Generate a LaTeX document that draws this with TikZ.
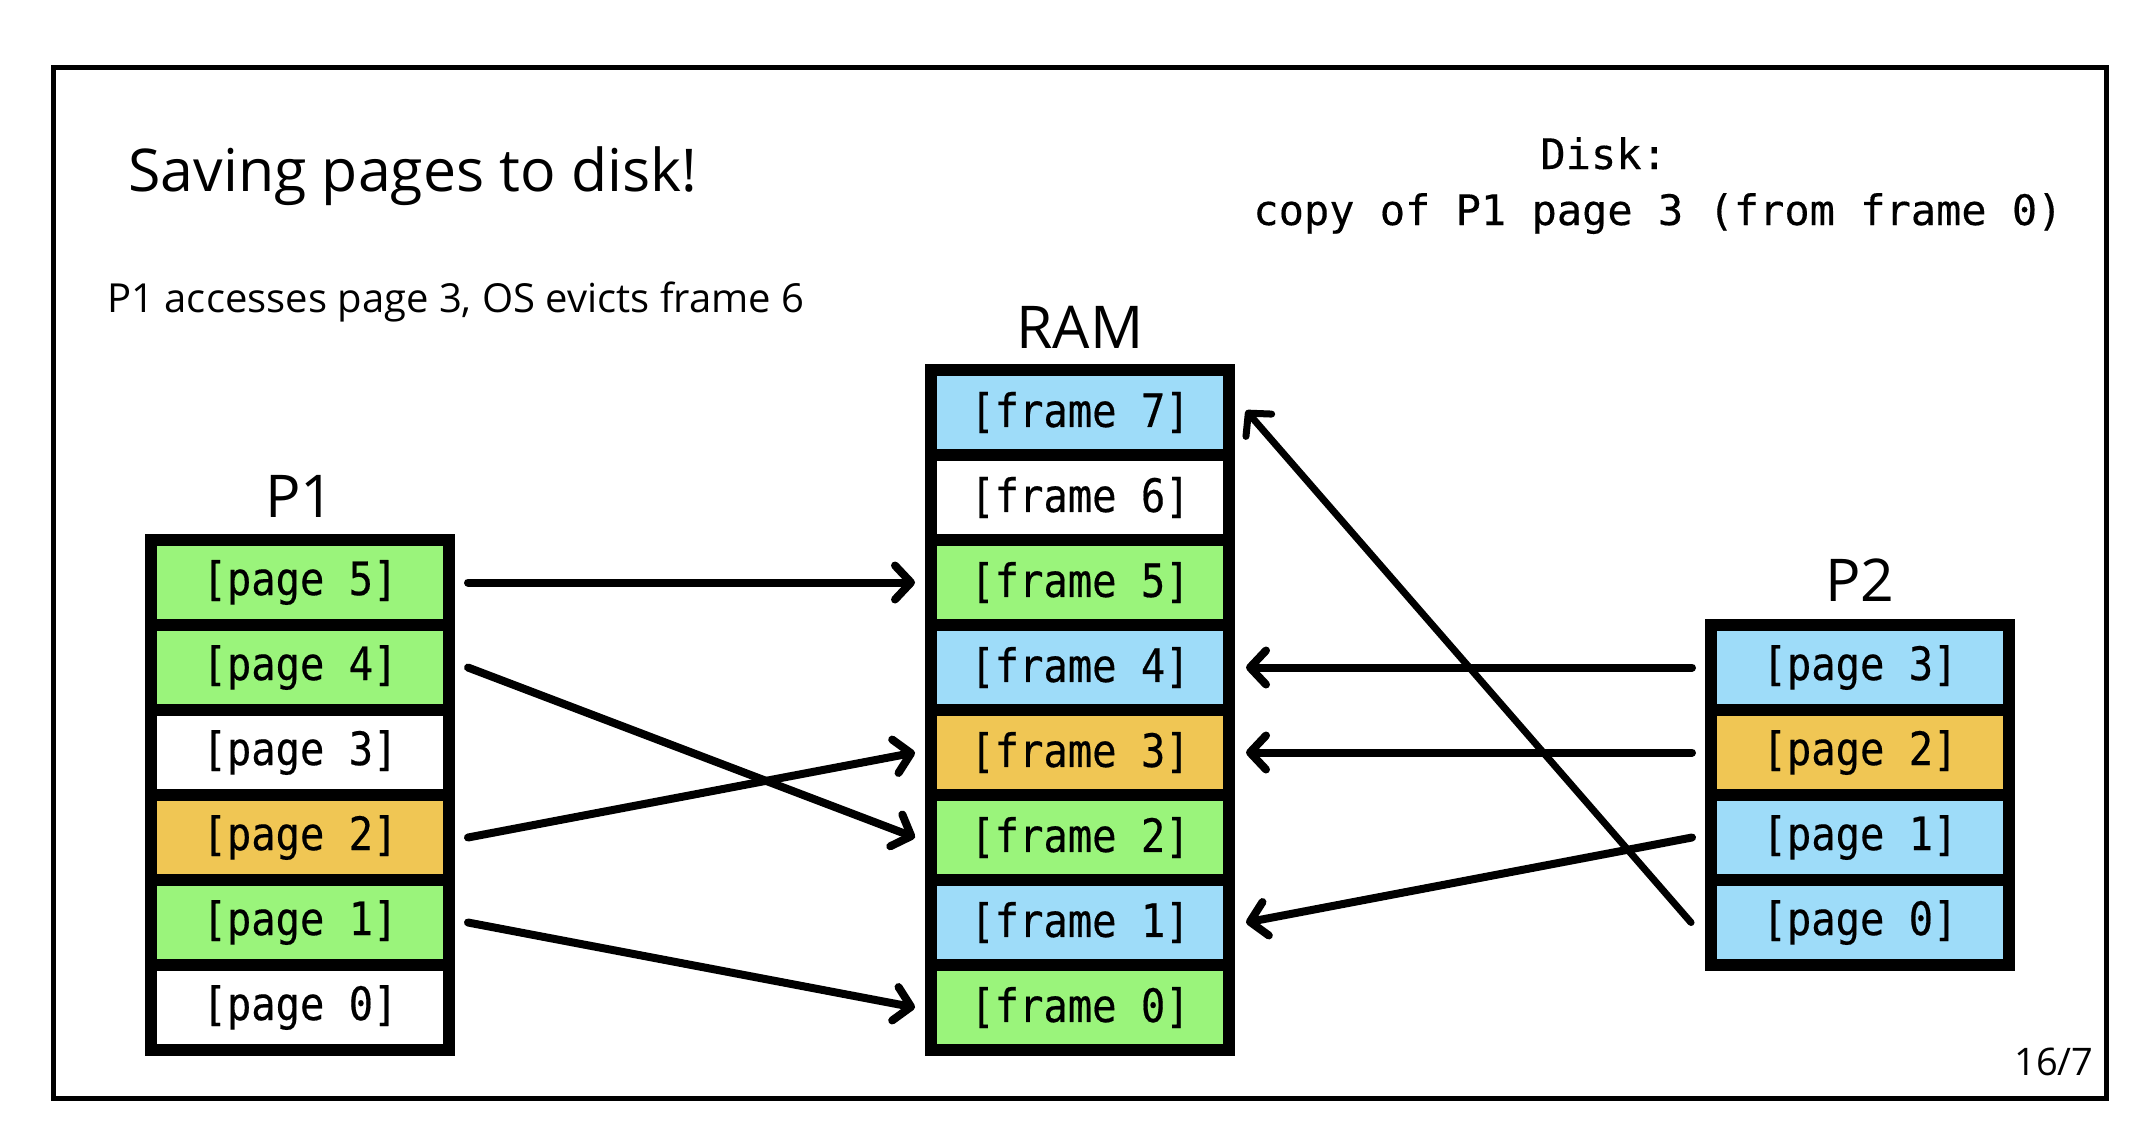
\documentclass[tikz,border=0pt]{standalone}
\usepackage{fontspec}
\setmainfont{Open Sans}
\newfontfamily\cellfont[FakeStretch=0.88,FakeBold=0.4]{DejaVu Sans Mono}
\newfontfamily\diskfont[FakeBold=0.3]{DejaVu Sans Mono}
\usetikzlibrary{arrows.meta,calc}
\definecolor{cgreen}{HTML}{9AF47B}
\definecolor{cblue}{HTML}{9EDCF9}
\definecolor{corange}{HTML}{F0C654}
\begin{document}
\begin{tikzpicture}[x=0.5pt,y=-0.5pt,
  cell/.style={rectangle, draw=black, line width=6pt, minimum width=149pt,
    minimum height=42.5pt, inner sep=0pt, outer sep=0pt,
    font=\cellfont\fontsize{23pt}{23pt}\selectfont},
  gcell/.style={cell, fill=cgreen},
  bcell/.style={cell, fill=cblue},
  ocell/.style={cell, fill=corange},
  wcell/.style={cell, fill=white},
  biglabel/.style={anchor=base, inner sep=0pt, font=\fontsize{29.5pt}{30pt}\selectfont},
  arr/.style={line width=4pt, -{Straight Barb[length=8pt,width=17pt,round]}, line cap=round},
  thinarr/.style={arr, line width=3.5pt}
]
\useasboundingbox (0,0) rectangle (2140,1130);
\fill[white] (0,0) rectangle (2140,1130);
\draw[line width=2.5pt] (53,67) rectangle (2106,1098);

% texts
\node[anchor=base west, inner sep=0pt, font=\fontsize{29.5pt}{30pt}\selectfont] (title) at (128,191) {Saving pages to disk!};
\node[anchor=base west, inner sep=0pt, font=\fontsize{20pt}{20pt}\selectfont] (sub) at (107,312) {P1 accesses page 3, OS evicts frame 6};
\node[anchor=base west, inner sep=0pt, font=\diskfont\fontsize{21pt}{21pt}\selectfont] (disk) at (1540,169) {Disk:};
\node[anchor=base west, inner sep=0pt, font=\diskfont\fontsize{21pt}{21pt}\selectfont] (copy) at (1253,225) {copy of P1 page 3 (from frame 0)};
\node[anchor=base east, inner sep=0pt, font=\fontsize{19pt}{19pt}\selectfont] (pnum) at (2094,1075) {16/7};

\node[biglabel] (lp1) at (300,517) {P1};
\node[biglabel] (lram) at (1080,348) {RAM};
\node[biglabel] (lp2) at (1860,601) {P2};

% P1
\node[gcell] (p5) at (300,582.5) {[page 5]};
\node[gcell] (p4) at (300,667.5) {[page 4]};
\node[wcell] (p3) at (300,752.5) {[page 3]};
\node[ocell] (p2) at (300,837.5) {[page 2]};
\node[gcell] (p1) at (300,922.5) {[page 1]};
\node[wcell] (p0) at (300,1007.5) {[page 0]};

% RAM
\node[bcell] (f7) at (1080,412.5) {[frame 7]};
\node[wcell] (f6) at (1080,497.5) {[frame 6]};
\node[gcell] (f5) at (1080,582.5) {[frame 5]};
\node[bcell] (f4) at (1080,667.5) {[frame 4]};
\node[ocell] (f3) at (1080,752.5) {[frame 3]};
\node[gcell] (f2) at (1080,837.5) {[frame 2]};
\node[bcell] (f1) at (1080,922.5) {[frame 1]};
\node[gcell] (f0) at (1080,1007.5) {[frame 0]};

% P2
\node[bcell] (q3) at (1860,667.5) {[page 3]};
\node[ocell] (q2) at (1860,752.5) {[page 2]};
\node[bcell] (q1) at (1860,837.5) {[page 1]};
\node[bcell] (q0) at (1860,922.5) {[page 0]};

% arrows
\draw[arr] ($(p5.east)+(19,0)$) -- ($(f5.west)+(-16,0)$);
\draw[arr] ($(p4.east)+(19,0)$) -- ($(f2.west)+(-16,0)$);
\draw[arr] ($(p2.east)+(19,0)$) -- ($(f3.west)+(-16,0)$);
\draw[arr] ($(p1.east)+(19,0)$) -- ($(f0.west)+(-16,0)$);
\draw[arr] ($(q3.west)+(-19,0)$) -- ($(f4.east)+(17,0)$);
\draw[arr] ($(q2.west)+(-19,0)$) -- ($(f3.east)+(17,0)$);
\draw[arr] ($(q1.west)+(-19,0)$) -- ($(f1.east)+(17,0)$);
\draw[thinarr] ($(q0.west)+(-20,0)$) -- ($(f7.east)+(17,-2)$);
\end{tikzpicture}
\end{document}
